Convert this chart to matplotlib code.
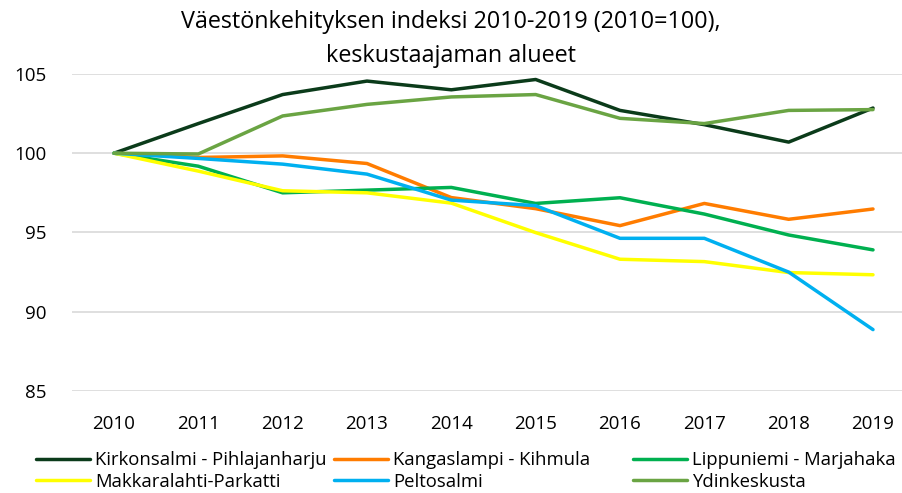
import matplotlib
matplotlib.use("Agg")
import matplotlib.pyplot as plt

years = ["2010", "2011", "2012", "2013", "2014", "2015", "2016", "2017", "2018", "2019"]
kirkonsalmi = [100, 101.87, 103.7, 104.55, 104.0, 104.65, 102.7, 101.8, 100.7, 102.85]
kangaslampi = [100, 99.73, 99.83, 99.35, 97.2, 96.5, 95.43, 96.83, 95.83, 96.48]
lippuniemi = [100, 99.18, 97.5, 97.67, 97.84, 96.83, 97.19, 96.16, 94.84, 93.9]
makkaralahti = [100, 98.87, 97.63, 97.5, 96.85, 94.99, 93.31, 93.16, 92.47, 92.33]
peltosalmi = [100, 99.67, 99.31, 98.68, 97.04, 96.69, 94.63, 94.63, 92.5, 88.87]
ydinkeskusta = [100, 99.95, 102.35, 103.08, 103.55, 103.7, 102.2, 101.87, 102.7, 102.75]

names = ["Kirkonsalmi - Pihlajanharju", "Kangaslampi - Kihmula", "Lippuniemi - Marjahaka",
         "Makkaralahti-Parkatti", "Peltosalmi", "Ydinkeskusta"]
series = [kirkonsalmi, kangaslampi, lippuniemi, makkaralahti, peltosalmi, ydinkeskusta]
colors = ["#0B3B1A", "#FF7C00", "#00B050", "#FFFF00", "#00B0F0", "#6AA443"]

plt.rcParams['font.family'] = ['Open Sans', 'DejaVu Sans']

fig = plt.figure(figsize=(9.02, 4.93), dpi=100)
ax = fig.add_axes([0.0796, 0.207, 0.935, 0.643])

x = list(range(len(years)))
handles = []
for vals, name, c in zip(series, names, colors):
    h, = ax.plot(x, vals, color=c, lw=2.5, solid_joinstyle='round', solid_capstyle='round', label=name)
    handles.append(h)

ax.set_xlim(-0.5, 9.5)
ax.set_ylim(85, 105)
ax.set_yticks([85, 90, 95, 100, 105])
ax.set_xticks(x)
ax.set_xticklabels(years)
ax.tick_params(axis='both', length=0, labelsize=13.5, colors='#000000')
ax.tick_params(axis='y', pad=18)
ax.tick_params(axis='x', pad=17)
for s in ax.spines.values():
    s.set_visible(False)
ax.yaxis.grid(True, color='#D9D9D9', lw=1.2)
ax.set_axisbelow(True)

fig.text(0.5, 0.955, "Väestönkehityksen indeksi 2010-2019 (2010=100),", ha='center', va='center', fontsize=16.8)
fig.text(0.5, 0.886, "keskustaajaman alueet", ha='center', va='center', fontsize=16.8)

colx = [36/902, 334/902, 633/902]
for i in range(3):
    hs = [handles[i], handles[i+3]]
    fig.legend(hs, [names[i], names[i+3]], loc='upper left',
               bbox_to_anchor=(colx[i], 1 - 451/493), frameon=False,
               fontsize=13.3, handlelength=2.95, handletextpad=0.25,
               labelspacing=0.2, borderaxespad=0, borderpad=0)

fig.savefig("out.png", dpi=100)
